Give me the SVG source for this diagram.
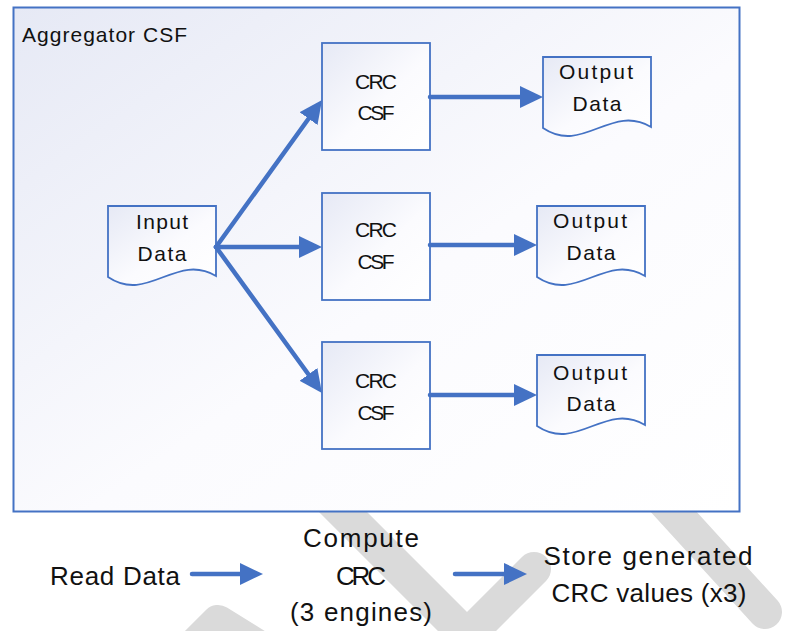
<svg xmlns="http://www.w3.org/2000/svg" width="786" height="631" viewBox="0 0 786 631">
  <style>
    .wm { fill: none; stroke: #dadada; stroke-width: 34; stroke-linecap: round; stroke-linejoin: round; }
    .frame { fill: url(#g); stroke: #4472c4; stroke-width: 2; }
    .node { fill: url(#g); stroke: #4472c4; stroke-width: 1.8; }
    .conn { fill: none; stroke: #4472c4; stroke-width: 4.5; stroke-linecap: round; }
    .t { font-family: "Liberation Sans", Arial, sans-serif; fill: #111; }
    .n { font-size: 21px; text-anchor: middle; }
    .b { font-size: 26px; }
  </style>
  <defs>
    <linearGradient id="g" x1="0" y1="0" x2="1" y2="1">
      <stop offset="0" stop-color="#e6e9f5"/>
      <stop offset="0.55" stop-color="#fbfbfe"/>
      <stop offset="1" stop-color="#ffffff"/>
    </linearGradient>
    <marker id="ah" markerUnits="userSpaceOnUse" markerWidth="23" markerHeight="22" refX="11" refY="11" orient="auto" viewBox="0 0 23 22">
      <path d="M0,0 L23,11 L0,22 Z" fill="#4472c4"/>
    </marker>
  </defs>

  <g id="watermark">
    <polyline class="wm" points="190,650 218,622 268,653"/>
    <polyline class="wm" points="300,469 467,636 534,569"/>
    <line class="wm" x1="640" y1="475" x2="765" y2="612"/>
  </g>

  <g id="aggregator">
    <rect class="frame" x="13.5" y="7.5" width="726" height="504"/>
    <text class="t" x="22" y="42" font-size="21" textLength="165" lengthAdjust="spacing">Aggregator CSF</text>
  </g>

  <g id="input-data">
    <path class="node" d="M108,206 H216 V276 C176,252 148,304 108,277 Z"/>
    <text class="t n" x="162" y="229" textLength="52" lengthAdjust="spacing">Input</text>
    <text class="t n" x="162" y="261" textLength="49" lengthAdjust="spacing">Data</text>
  </g>

  <g id="crc1">
    <rect class="node" x="322" y="43" width="108" height="107"/>
    <text class="t n" x="376" y="89" textLength="42" lengthAdjust="spacing">CRC</text>
    <text class="t n" x="376" y="120" textLength="37" lengthAdjust="spacing">CSF</text>
  </g>
  <g id="crc2">
    <rect class="node" x="322" y="193" width="108" height="107"/>
    <text class="t n" x="376" y="237" textLength="42" lengthAdjust="spacing">CRC</text>
    <text class="t n" x="376" y="269" textLength="37" lengthAdjust="spacing">CSF</text>
  </g>
  <g id="crc3">
    <rect class="node" x="322" y="342" width="108" height="107"/>
    <text class="t n" x="376" y="388" textLength="42" lengthAdjust="spacing">CRC</text>
    <text class="t n" x="376" y="420" textLength="37" lengthAdjust="spacing">CSF</text>
  </g>

  <g id="output1">
    <path class="node" d="M543,57 H651 V127 C611,103 583,155 543,128 Z"/>
    <text class="t n" x="596" y="79" textLength="74" lengthAdjust="spacing">Output</text>
    <text class="t n" x="597" y="111" textLength="49" lengthAdjust="spacing">Data</text>
  </g>
  <g id="output2">
    <path class="node" d="M537,206 H645 V276 C605,252 577,304 537,277 Z"/>
    <text class="t n" x="590" y="228" textLength="74" lengthAdjust="spacing">Output</text>
    <text class="t n" x="591" y="260" textLength="49" lengthAdjust="spacing">Data</text>
  </g>
  <g id="output3">
    <path class="node" d="M537,355 H645 V425 C605,401 577,453 537,426 Z"/>
    <text class="t n" x="590" y="380" textLength="74" lengthAdjust="spacing">Output</text>
    <text class="t n" x="591" y="411" textLength="49" lengthAdjust="spacing">Data</text>
  </g>

  <g id="connectors">
    <line class="conn" x1="216" y1="247" x2="315" y2="109.7" marker-end="url(#ah)"/>
    <line class="conn" x1="216" y1="247" x2="310" y2="247" marker-end="url(#ah)"/>
    <line class="conn" x1="216" y1="247" x2="314.9" y2="383.3" marker-end="url(#ah)"/>
    <line class="conn" x1="430" y1="97" x2="531" y2="97" marker-end="url(#ah)"/>
    <line class="conn" x1="430" y1="245" x2="525" y2="245" marker-end="url(#ah)"/>
    <line class="conn" x1="430" y1="395" x2="525" y2="395" marker-end="url(#ah)"/>
    <line class="conn" x1="192" y1="574" x2="251" y2="574" marker-end="url(#ah)"/>
    <line class="conn" x1="455" y1="574" x2="515" y2="574" marker-end="url(#ah)"/>
  </g>

  <g id="legend">
    <text class="t b" x="50" y="585" textLength="130" lengthAdjust="spacing">Read Data</text>
    <text class="t b" x="361" y="547" text-anchor="middle" textLength="116" lengthAdjust="spacing">Compute</text>
    <text class="t b" x="361" y="585" text-anchor="middle" textLength="50" lengthAdjust="spacing">CRC</text>
    <text class="t b" x="361" y="621" text-anchor="middle" textLength="142" lengthAdjust="spacing">(3 engines)</text>
    <text class="t b" x="648" y="565" text-anchor="middle" textLength="209" lengthAdjust="spacing">Store generated</text>
    <text class="t b" x="649" y="602" text-anchor="middle" textLength="195" lengthAdjust="spacing">CRC values (x3)</text>
  </g>
</svg>
